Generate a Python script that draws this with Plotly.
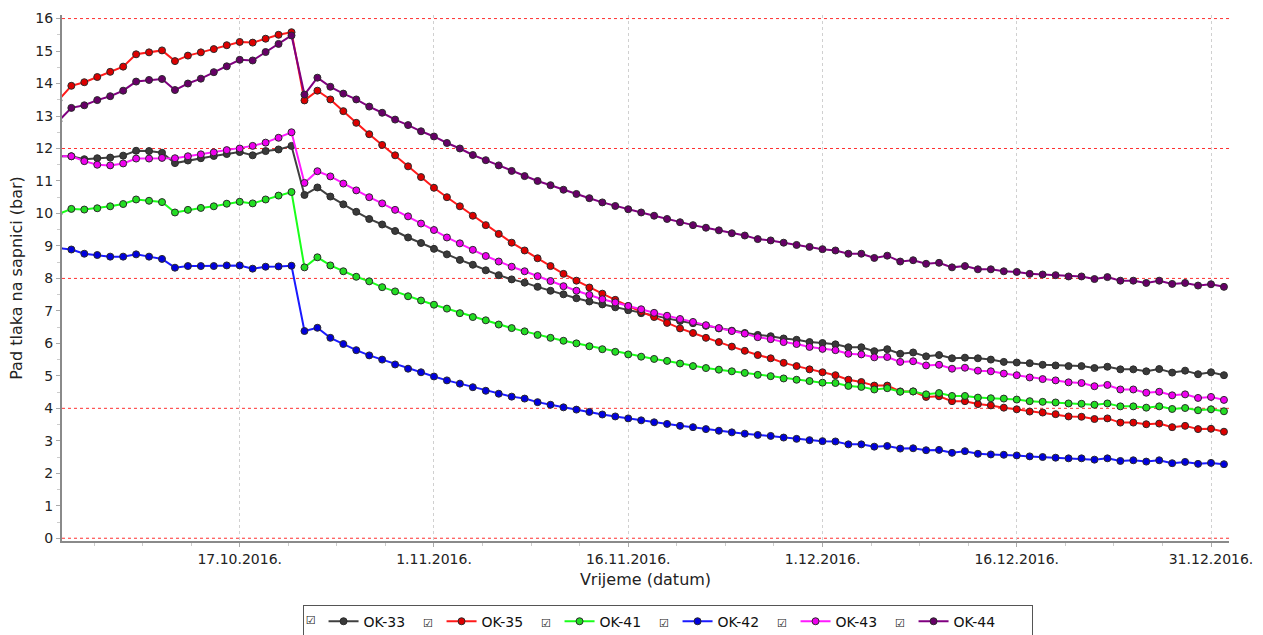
import pandas as pd
import plotly.graph_objects as go

# daily readings, 3.10.2016 .. 1.1.2017
start_date = "2016-10-03"
n_days = 91
dates = pd.date_range(start_date, periods=n_days, freq="D")

ok33 = [11.76, 11.76, 11.67, 11.70, 11.72, 11.78, 11.93, 11.92, 11.87, 11.55, 11.63, 11.70, 11.77, 11.83, 11.89, 11.79, 11.92, 11.97, 12.08,
        10.57, 10.80, 10.52, 10.28, 10.05, 9.83, 9.66, 9.46, 9.26, 9.09, 8.91, 8.74, 8.57, 8.42, 8.25, 8.10, 7.97, 7.87,
        7.74, 7.62, 7.51, 7.39, 7.29, 7.20, 7.11, 7.02, 6.93, 6.85, 6.77, 6.69, 6.62, 6.54, 6.46, 6.39, 6.32, 6.26,
        6.22, 6.15, 6.11, 6.04, 6.01, 5.97, 5.88, 5.88, 5.76, 5.82, 5.68, 5.72, 5.60, 5.64, 5.54, 5.56, 5.54, 5.50, 5.43,
        5.41, 5.39, 5.34, 5.32, 5.30, 5.30, 5.24, 5.28, 5.20, 5.20, 5.14, 5.21, 5.10, 5.16, 5.05, 5.11, 5.02]

ok35 = [13.48, 13.93, 14.04, 14.20, 14.36, 14.52, 14.90, 14.96, 15.02, 14.69, 14.86, 14.96, 15.06, 15.18, 15.28, 15.26, 15.38, 15.50, 15.58,
        13.48, 13.78, 13.51, 13.15, 12.79, 12.44, 12.11, 11.79, 11.45, 11.12, 10.79, 10.50, 10.22, 9.93, 9.64, 9.37, 9.10, 8.86,
        8.62, 8.38, 8.14, 7.93, 7.72, 7.53, 7.34, 7.15, 6.97, 6.81, 6.63, 6.46, 6.32, 6.17, 6.04, 5.90, 5.77, 5.64,
        5.54, 5.40, 5.30, 5.20, 5.11, 5.02, 4.88, 4.81, 4.70, 4.70, 4.52, 4.52, 4.35, 4.37, 4.22, 4.22, 4.13, 4.09, 4.02,
        3.97, 3.90, 3.87, 3.82, 3.75, 3.74, 3.67, 3.69, 3.56, 3.56, 3.51, 3.53, 3.42, 3.46, 3.36, 3.37, 3.28]

ok41 = [9.98, 10.14, 10.12, 10.16, 10.22, 10.29, 10.43, 10.39, 10.35, 10.03, 10.11, 10.17, 10.22, 10.30, 10.36, 10.31, 10.43, 10.55, 10.66,
        8.34, 8.65, 8.40, 8.22, 8.05, 7.91, 7.73, 7.60, 7.45, 7.32, 7.19, 7.07, 6.93, 6.81, 6.71, 6.58, 6.47, 6.37,
        6.26, 6.17, 6.08, 6.00, 5.91, 5.82, 5.74, 5.66, 5.59, 5.52, 5.46, 5.38, 5.30, 5.24, 5.19, 5.14, 5.09, 5.03,
        4.99, 4.92, 4.88, 4.84, 4.79, 4.78, 4.69, 4.66, 4.58, 4.62, 4.51, 4.52, 4.43, 4.47, 4.38, 4.38, 4.33, 4.31, 4.30,
        4.27, 4.22, 4.20, 4.18, 4.15, 4.14, 4.11, 4.15, 4.06, 4.06, 4.02, 4.06, 3.98, 4.01, 3.94, 3.97, 3.91]

ok42 = [8.93, 8.89, 8.76, 8.72, 8.67, 8.67, 8.74, 8.67, 8.60, 8.33, 8.38, 8.38, 8.38, 8.40, 8.40, 8.30, 8.36, 8.37, 8.39,
        6.38, 6.48, 6.17, 5.98, 5.79, 5.63, 5.50, 5.35, 5.22, 5.11, 4.98, 4.86, 4.76, 4.65, 4.54, 4.45, 4.36, 4.30,
        4.19, 4.11, 4.03, 3.96, 3.89, 3.81, 3.75, 3.69, 3.63, 3.57, 3.52, 3.46, 3.42, 3.36, 3.31, 3.26, 3.22, 3.18,
        3.15, 3.10, 3.06, 3.02, 2.99, 2.98, 2.89, 2.89, 2.82, 2.84, 2.76, 2.77, 2.71, 2.72, 2.63, 2.68, 2.60, 2.58, 2.57,
        2.55, 2.52, 2.50, 2.48, 2.46, 2.46, 2.42, 2.46, 2.38, 2.40, 2.36, 2.40, 2.31, 2.35, 2.29, 2.32, 2.28]

ok43 = [11.76, 11.76, 11.61, 11.50, 11.48, 11.54, 11.69, 11.69, 11.71, 11.70, 11.76, 11.82, 11.88, 11.95, 12.00, 12.08, 12.18, 12.33, 12.50,
        10.94, 11.30, 11.14, 10.92, 10.71, 10.50, 10.31, 10.11, 9.91, 9.69, 9.49, 9.26, 9.08, 8.88, 8.69, 8.52, 8.36, 8.22,
        8.07, 7.92, 7.76, 7.62, 7.49, 7.36, 7.26, 7.15, 7.05, 6.94, 6.85, 6.75, 6.66, 6.56, 6.47, 6.38, 6.30, 6.19,
        6.13, 6.04, 5.98, 5.89, 5.83, 5.79, 5.68, 5.66, 5.57, 5.58, 5.43, 5.45, 5.32, 5.34, 5.22, 5.25, 5.16, 5.14, 5.07,
        5.02, 4.95, 4.90, 4.86, 4.80, 4.78, 4.68, 4.72, 4.58, 4.58, 4.48, 4.51, 4.40, 4.43, 4.32, 4.35, 4.26]

ok44 = [12.84, 13.25, 13.33, 13.49, 13.61, 13.78, 14.06, 14.11, 14.14, 13.80, 14.00, 14.15, 14.35, 14.53, 14.73, 14.71, 14.97, 15.22, 15.48,
        13.66, 14.18, 13.90, 13.69, 13.51, 13.29, 13.10, 12.89, 12.72, 12.53, 12.37, 12.17, 12.00, 11.80, 11.64, 11.48, 11.31, 11.15,
        11.00, 10.87, 10.73, 10.60, 10.47, 10.34, 10.23, 10.13, 10.03, 9.93, 9.83, 9.73, 9.64, 9.56, 9.48, 9.39, 9.32, 9.21,
        9.17, 9.10, 9.03, 8.97, 8.90, 8.86, 8.76, 8.76, 8.63, 8.70, 8.52, 8.56, 8.45, 8.48, 8.34, 8.38, 8.28, 8.28, 8.22,
        8.20, 8.14, 8.12, 8.10, 8.06, 8.06, 7.98, 8.04, 7.93, 7.93, 7.86, 7.93, 7.83, 7.86, 7.78, 7.82, 7.74]

series_names = ["OK-33", "OK-35", "OK-41", "OK-42", "OK-43", "OK-44"]
series_values = [ok33, ok35, ok41, ok42, ok43, ok44]
line_colors = ["#404040", "#ff1a1a", "#1aff1a", "#1a1aff", "#ff1aff", "#800080"]
marker_colors = ["#3a3a3a", "#dd0000", "#22dd22", "#0000dd", "#ee00ee", "#660066"]

red_grid = [0, 4, 8, 12, 16]

FONT = "DejaVu Sans"
box = "<span style='font-size:11px'>\u2611</span>"

fig = go.Figure()
for k, (name, vals) in enumerate(zip(series_names, series_values)):
    label = name if k == len(series_names) - 1 else name + "    " + box
    fig.add_trace(go.Scatter(
        x=dates, y=vals, name=label, mode="lines+markers",
        line=dict(color=line_colors[k], width=2),
        marker=dict(size=7, color=marker_colors[k], line=dict(color="#2a2a2a", width=1)),
    ))

# red dotted horizontal grid every 4 bar
for g in red_grid:
    fig.add_shape(type="line", xref="paper", x0=0, x1=1, yref="y", y0=g, y1=g,
                  line=dict(color="#ff3030", width=1, dash="dot"), layer="below")

day_ms = 86400000
fig.update_layout(
    width=1263, height=635,
    margin=dict(l=62, r=34, t=15, b=94, autoexpand=False),
    paper_bgcolor="white", plot_bgcolor="white",
    font=dict(family=FONT, size=14, color="#222222"),
    showlegend=True,
    legend=dict(
        orientation="h", x=0.519, xanchor="center", y=-0.121, yanchor="top",
        bordercolor="#555555", borderwidth=1, bgcolor="white",
        font=dict(family=FONT, size=14, color="#111111"),
        entrywidth=73, entrywidthmode="pixels",
        title=dict(text=box, side="left", font=dict(size=14)),
        tracegroupgap=0, itemclick=False,
    ),
    xaxis=dict(
        range=["2016-10-03 06:40", "2017-01-01 09:20"],
        tick0="2016-10-17", dtick=15 * day_ms, tickformat="%-d.%-m.%Y.",
        showgrid=True, gridcolor="#d0d0d0", griddash="dot", gridwidth=1,
        showline=True, linecolor="#8a8a8a", linewidth=2,
        ticks="outside", ticklen=4, tickcolor="#aaaaaa",
        minor=dict(tick0="2016-10-17", dtick=3.75 * day_ms, ticks="outside", ticklen=3,
                   tickcolor="#cccccc", showgrid=False),
        zeroline=False, automargin=False,
        title=dict(text="Vrijeme (datum)", font=dict(size=16, color="#222222"), standoff=8),
    ),
    yaxis=dict(
        range=[-0.085, 16.11], dtick=1, tick0=0,
        showgrid=False, zeroline=False, automargin=False,
        showline=True, linecolor="#8a8a8a", linewidth=2,
        ticks="outside", ticklen=4, tickcolor="#aaaaaa",
        minor=dict(dtick=0.5, ticks="outside", ticklen=3, tickcolor="#cccccc", showgrid=False),
        title=dict(text="Pad tlaka na sapnici (bar)", font=dict(size=16, color="#222222"), standoff=9),
    ),
)

fig.write_html("out.html", config={"displayModeBar": False},
               post_script="document.body.style.margin='0';")
